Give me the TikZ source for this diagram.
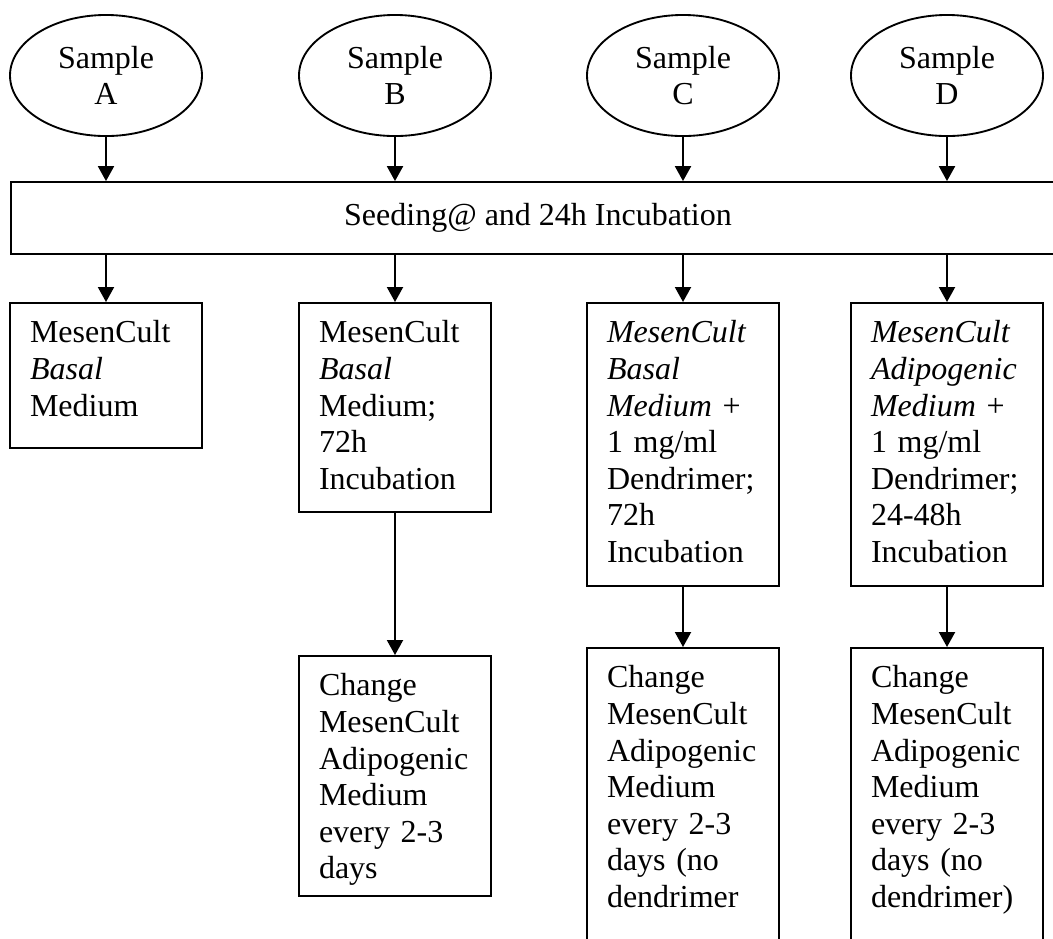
\documentclass[tikz,border=0pt]{standalone}
\usepackage{fontspec}
\setmainfont{Liberation Serif}
\usetikzlibrary{shapes.geometric,arrows.meta}

\begin{document}
\begin{tikzpicture}[x=0.375pt, y=-0.375pt, line width=0.7pt, font=\fontsize{12}{13.7}\selectfont,
	sample/.style ={ellipse, draw, align = center, minimum width=72pt, minimum height=45.4pt, inner sep=0pt},
	stage/.style ={rectangle, draw, anchor = north, align = left, text width=57pt, inner xsep=7.5pt, inner ysep=0pt, text height=15pt, text depth=#1},
	arr/.style ={-{Triangle[length=5.6pt,width=6pt]}}]
		\useasboundingbox (0,0) rectangle (1053,938);
		\def\xa{106};
		\def\xb{395};
		\def\xc{683};
		\def\xd{947};
		% samples
		\node[sample] (sA) at (\xa,75.5) {Sample\\A};
		\node[sample] (sB) at (\xb,75.5) {Sample\\B};
		\node[sample] (sC) at (\xc,75.5) {Sample\\C};
		\node[sample] (sD) at (\xd,75.5) {Sample\\D};
		% seeding
		\node[draw, rectangle, minimum width=395.25pt, minimum height=27pt, inner sep=0pt] (seed) at (538,218) {Seeding@ and 24h Incubation};
		% media
		\node[stage=39.4pt] (mA) at (\xa,302) {MesenCult\\\textit{Basal}\\Medium};
		\node[stage=63.4pt] (mB) at (\xb,302) {MesenCult\\\textit{Basal}\\Medium;\\72h\\Incubation};
		\node[stage=91.1pt] (mC) at (\xc,302) {\textit{MesenCult}\\\textit{Basal}\\\textit{Medium} +\\1 mg/ml\\Dendrimer;\\72h\\Incubation};
		\node[stage=91.1pt] (mD) at (\xd,302) {\textit{MesenCult}\\\textit{Adipogenic}\\\textit{Medium} +\\1 mg/ml\\Dendrimer;\\24-48h\\Incubation};
		% change of medium
		\node[stage=75pt] (cB) at (\xb,655) {Change\\MesenCult\\Adipogenic\\Medium\\every 2-3\\days};
		\node[stage=110pt] (cC) at (\xc,647) {Change\\MesenCult\\Adipogenic\\Medium\\every 2-3\\days (no\\dendrimer};
		\node[stage=110pt] (cD) at (\xd,647) {Change\\MesenCult\\Adipogenic\\Medium\\every 2-3\\days (no\\dendrimer)};
		\draw[arr] (sA.south) -- (sA.south |- seed.north);
		\draw[arr] (sB.south) -- (sB.south |- seed.north);
		\draw[arr] (sC.south) -- (sC.south |- seed.north);
		\draw[arr] (sD.south) -- (sD.south |- seed.north);
		\draw[arr] (seed.south -| mA.north) -- (mA.north);
		\draw[arr] (seed.south -| mB.north) -- (mB.north);
		\draw[arr] (seed.south -| mC.north) -- (mC.north);
		\draw[arr] (seed.south -| mD.north) -- (mD.north);
		\draw[arr] (mB.south) -- (cB.north);
		\draw[arr] (mC.south) -- (cC.north);
		\draw[arr] (mD.south) -- (cD.north);
	\end{tikzpicture}
\end{document}
